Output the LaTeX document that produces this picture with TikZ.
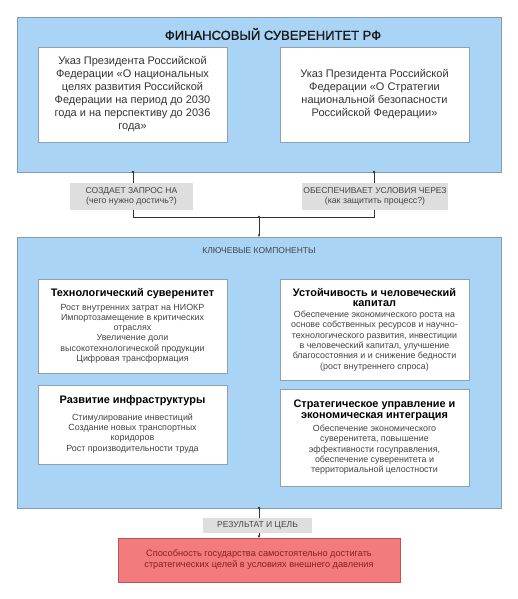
\documentclass[tikz,border=0pt]{standalone}
\usepackage{fontspec}
\setmainfont{Liberation Sans}
\newfontfamily\titlefont[FakeBold=1.2]{Liberation Sans}
\usetikzlibrary{shadows,arrows.meta}
\definecolor{bluefill}{HTML}{A9D4F6}
\definecolor{blueline}{HTML}{7F9CB3}
\definecolor{boxline}{HTML}{8EA2B4}
\definecolor{labfill}{HTML}{DEDEDE}
\definecolor{redfill}{HTML}{F27B7D}
\definecolor{redline}{HTML}{B95559}
\definecolor{redtext}{HTML}{8A1F22}
\definecolor{bodytext}{HTML}{444444}
\definecolor{conn}{HTML}{333333}
\newcommand{\hdf}{\fontsize{10.9}{12}\selectfont\bfseries\color{black}}
\newcommand{\bdf}{\fontsize{8.9}{10.3}\selectfont}
\newcommand{\labbig}{\fontsize{8.5}{9.5}\selectfont}
\newcommand{\labsmall}{\fontsize{8.8}{9.5}\selectfont}
\tikzset{
  panel/.style={draw=blueline, fill=bluefill, line width=0.8pt, minimum width=484pt},
  docbox/.style={draw=boxline, fill=white, line width=0.8pt, minimum width=189pt, align=center,
     text=bodytext, drop shadow={opacity=0.25, shadow xshift=0.8pt, shadow yshift=-0.8pt}},
  compbox/.style={docbox, font=\bdf},
  lab/.style={fill=labfill, align=center, text=bodytext, inner sep=0pt, font=\labbig},
  conline/.style={draw=conn, line width=0.6pt},
  dot/.style={circle, fill=conn, inner sep=0pt, minimum size=2.6pt},
}
\begin{document}
\begin{tikzpicture}[x=1pt,y=-1pt]
\useasboundingbox (0,0) rectangle (518,599);
% top panel
\node[panel, minimum height=155pt] (p1) at (259,94.5) {};
\node[text=black!90] (title) at (273,34) {\titlefont\fontsize{13}{15}\selectfont ФИНАНСОВЫЙ СУВЕРЕНИТЕТ РФ};
\node[docbox, minimum height=95pt, font=\fontsize{11}{13}\selectfont, text=black!80] (d1) at (132.5,94.5) {Указ Президента Российской\\Федерации «О национальных\\целях развития Российской\\Федерации на период до 2030\\года и на перспективу до 2036\\года»};
\node[docbox, minimum height=95pt, font=\fontsize{11}{13}\selectfont, text=black!80] (d2) at (374.5,94.5) {Указ Президента Российской\\Федерации «О Стратегии\\национальной безопасности\\Российской Федерации»};
% second panel
\node[panel, minimum height=271pt] (p2) at (259,372.5) {};
\node[text=bodytext, font=\fontsize{8.5}{9}\selectfont] (kk) at (259,251) {КЛЮЧЕВЫЕ КОМПОНЕНТЫ};
\node[compbox, minimum height=94pt] (c1) at (132.5,326) {\hdf Технологический суверенитет\\[3pt]Рост внутренних затрат на НИОКР\\Импортозамещение в критических\\отраслях\\Увеличение доли\\высокотехнологической продукции\\Цифровая трансформация};
\node[compbox, minimum height=101pt] (c2) at (374.5,329.5) {\hdf Устойчивость и человеческий\\\hdf капитал\\[1pt]Обеспечение экономического роста на\\основе собственных ресурсов и научно-\\технологического развития, инвестиции\\в человеческий капитал, улучшение\\благосостояния и и снижение бедности\\(рост внутреннего спроса)};
\node[compbox, minimum height=79pt] (c3) at (132.5,424.5) {\hdf Развитие инфраструктуры\\[6pt]Стимулирование инвестиций\\Создание новых транспортных\\коридоров\\Рост производительности труда};
\node[compbox, minimum height=97pt] (c4) at (374.5,437.5) {\hdf Стратегическое управление и\\\hdf экономическая интеграция\\[3pt]Обеспечение экономического\\суверенитета, повышение\\эффективности госуправления,\\обеспечение суверенитета и\\территориальной целостности};
% result
\node[draw=redline, fill=redfill, line width=0.8pt, minimum width=282pt, minimum height=44pt, align=center,
  text=redtext, font=\fontsize{9.2}{11}\selectfont] (res) at (259,560) {Способность государства самостоятельно достигать\\стратегических целей в условиях внешнего давления};
% connectors
\coordinate (s1) at (133,172);
\coordinate (s2) at (374,172);
\coordinate (j) at (259,217);
\coordinate (b1) at (133,217);
\coordinate (b2) at (374,217);
\coordinate (s3) at (259,508);
\coordinate (e2) at (259,237);
\coordinate (e3) at (259,538);
\draw[conline] (s1) -- (b1) -- (b2) -- (s2);
\draw[conline, -{Stealth[length=3pt,width=2.6pt]}] (j) -- (e2);
\draw[conline, -{Stealth[length=3pt,width=2.6pt]}] (s3) -- (e3);
\node[dot] at (s1) {};
\node[dot] at (s2) {};
\node[dot] at (j) {};
\node[dot] at (s3) {};
\node[lab, minimum width=123pt, minimum height=27pt] (l1) at (131.5,196.5) {СОЗДАЕТ ЗАПРОС НА\\\labsmall (чего нужно достичь?)};
\node[lab, minimum width=146pt, minimum height=27pt] (l2) at (375,196.5) {ОБЕСПЕЧИВАЕТ УСЛОВИЯ ЧЕРЕЗ\\\labsmall (как защитить процесс?)};
\node[lab, minimum width=109pt, minimum height=15pt] (l3) at (257.5,525.5) {РЕЗУЛЬТАТ И ЦЕЛЬ};
\end{tikzpicture}
\end{document}
